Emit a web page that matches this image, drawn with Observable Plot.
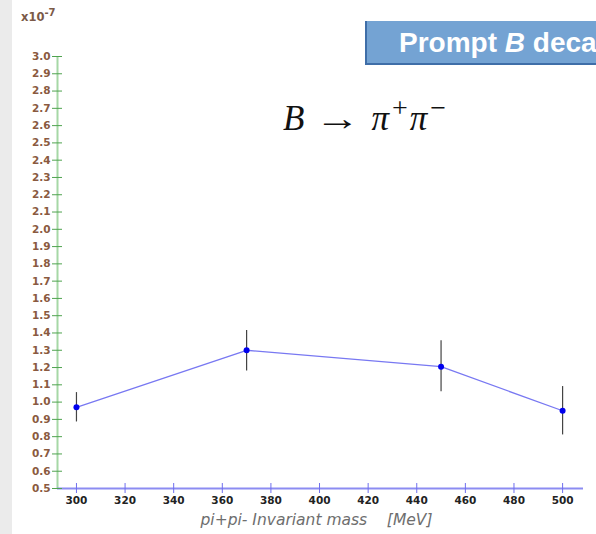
<!DOCTYPE html>
<html>
<head>
<meta charset="utf-8">
<script src="https://cdn.jsdelivr.net/npm/d3@7"></script>
<script src="https://cdn.jsdelivr.net/npm/@observablehq/plot@0.6"></script>
<style>
  html, body { margin: 0; padding: 0; background: #fff; }
  #wrap { position: relative; width: 596px; height: 534px; overflow: hidden; background: #fff; }
  #strip { position: absolute; left: 0; top: 0; width: 12px; height: 534px; background: #ebebeb; }
  #chart { position: absolute; left: 0; top: 0; }
  #title { position: absolute; left: 365px; top: 21px; width: 260px; height: 42px;
           background: #74a3d3; border-left: 2px solid #3f6ea8; border-bottom: 2px solid #3f6ea8;
           color: #fff; font: bold 28px "Liberation Sans", Arial, sans-serif; line-height: 44px;
           padding-left: 32px; white-space: nowrap; box-sizing: content-box; }
  #formula { position: absolute; left: 283px; top: 99px; font: 35px "Liberation Serif", "DejaVu Serif", serif;
             color: #111; white-space: nowrap; }
  #formula i { font-style: italic; }
  #formula .arr { display: inline-block; margin: 0 16px 0 16px; transform: scaleX(1.3); }
  #formula sup { font-size: 28px; vertical-align: 13px; line-height: 0; margin: 0 2px 0 3px; }
  #scale { position: absolute; left: 21px; top: 10px; font: bold 11.5px "DejaVu Sans", sans-serif; color: #7b5a48; }
  #scale sup { font-size: 10px; vertical-align: 5px; line-height: 0; }
</style>
</head>
<body>
<div id="wrap">
  <div id="strip"></div>
  <div id="chart"></div>
  <div id="title">Prompt <i>B</i> decays</div>
  <div id="formula"><i>B</i><span class="arr">→</span><i>π</i><sup>+</sup><i>π</i><sup>−</sup></div>
  <div id="scale">x10<sup>-7</sup></div>
</div>
<script>
const masses = [300, 370, 450, 500];
const values = [0.97, 1.30, 1.205, 0.95];
const errLow = [0.885, 1.18, 1.06, 0.81];
const errHigh = [1.055, 1.415, 1.355, 1.09];
const yTicks = [0.5, 0.6, 0.7, 0.8, 0.9, 1.0, 1.1, 1.2, 1.3, 1.4, 1.5, 1.6, 1.7, 1.8, 1.9, 2.0,
                2.1, 2.2, 2.3, 2.4, 2.5, 2.6, 2.7, 2.8, 2.9, 3.0];
const xTicks = [300, 320, 340, 360, 380, 400, 420, 440, 460, 480, 500];
const xLabel = "pi+pi- Invariant mass\u00a0\u00a0\u00a0\u00a0[MeV]";
const xDomain = [292.2, 508.6];
const yDomain = [0.5, 3.0];

const data = masses.map((m, i) => ({x: m, y: values[i], lo: errLow[i], hi: errHigh[i]}));

const tickFont = {fontFamily: "DejaVu Sans", fontWeight: "bold", fontSize: 10.5};

const chart = Plot.plot({
  width: 596,
  height: 534,
  marginLeft: 57,
  marginRight: 13,
  marginTop: 56,
  marginBottom: 46,
  style: {background: "transparent", fontFamily: "DejaVu Sans"},
  x: {domain: xDomain},
  y: {domain: yDomain},
  marks: [
    Plot.ruleX([xDomain[0]], {stroke: "#a6d8a6", strokeWidth: 2}),
    Plot.ruleY([yDomain[0]], {stroke: "#8c8cf2", strokeWidth: 2}),
    Plot.axisY({ticks: yTicks, tickSize: 5, tickPadding: 2, stroke: "#4fa34f", fill: "#8a5a40",
                tickFormat: d3.format(".1f"), label: null, ...tickFont}),
    Plot.axisY({ticks: yTicks, tickSize: -5, text: null, stroke: "#4fa34f", label: null}),
    Plot.axisX({ticks: xTicks, tickSize: 5, tickPadding: 3, stroke: "#6f6fee", fill: "#222",
                tickFormat: d3.format("d"), label: null, ...tickFont}),
    Plot.axisX({ticks: xTicks, tickSize: -5, text: null, stroke: "#6f6fee", label: null}),
    Plot.text([xLabel], {frameAnchor: "bottom", dy: 36, dx: -4, fontStyle: "italic", fontSize: 15.5,
                         fill: "#6e6e6e", fontFamily: "DejaVu Sans", fontWeight: 300}),
    Plot.line(data, {x: "x", y: "y", stroke: "#7878f2", strokeWidth: 1.3}),
    Plot.ruleX(data, {x: "x", y1: "lo", y2: "hi", stroke: "#444", strokeWidth: 1.2}),
    Plot.dot(data, {x: "x", y: "y", r: 3, fill: "#0000ee", stroke: "none"})
  ]
});
document.getElementById("chart").appendChild(chart);
</script>
</body>
</html>
